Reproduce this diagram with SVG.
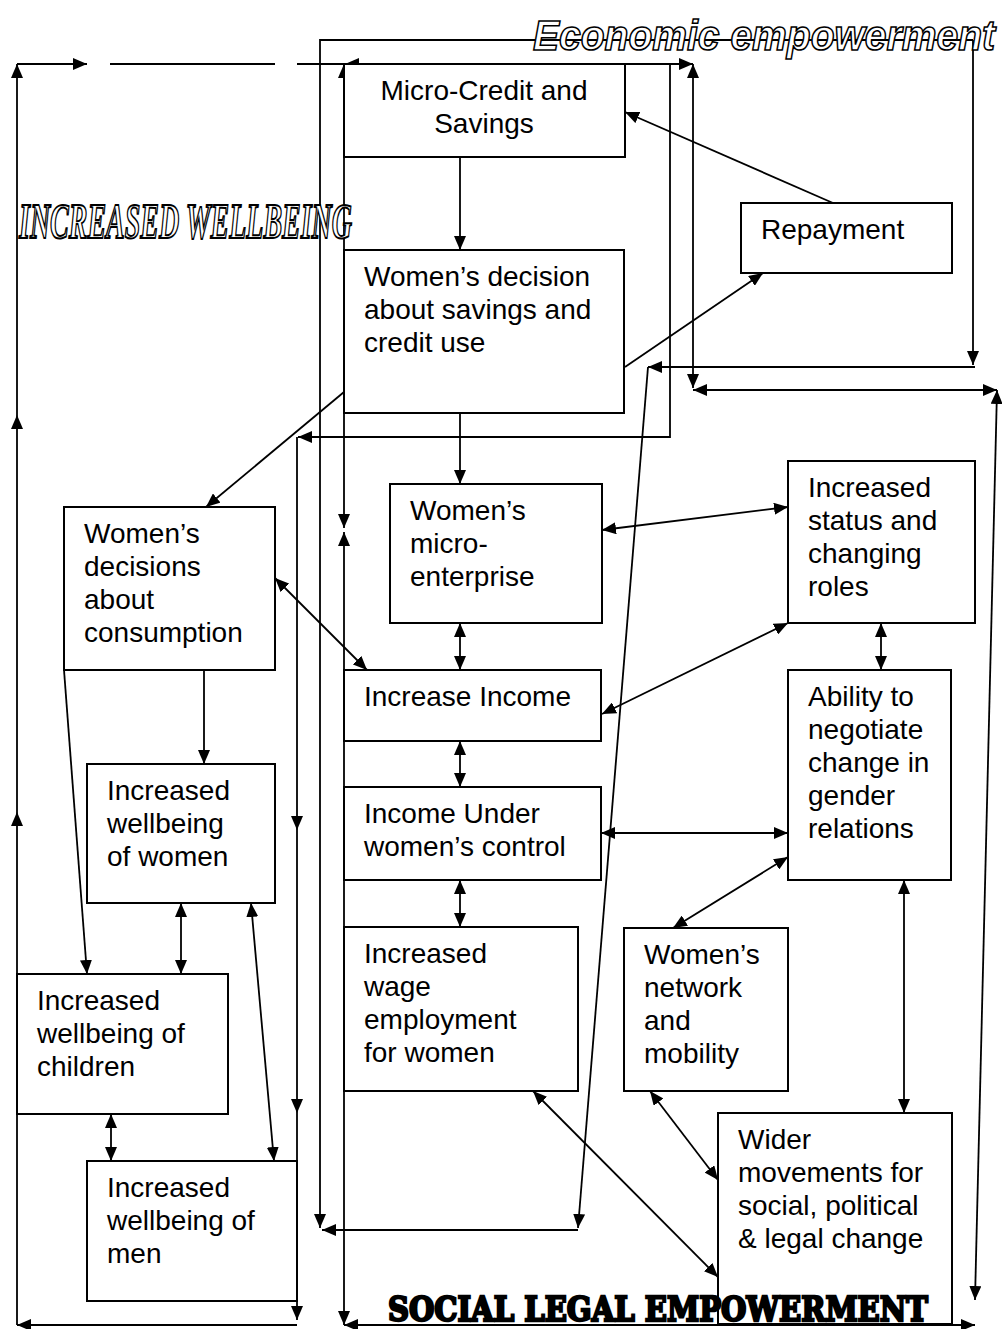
<svg xmlns="http://www.w3.org/2000/svg" width="1002" height="1329" viewBox="0 0 1002 1329">
<style>
.c{fill:none;stroke:#000;stroke-width:1.8}
.a{marker-end:url(#ah)}
.b{marker-start:url(#ah);marker-end:url(#ah)}
.n rect{fill:#fff;stroke:#000;stroke-width:2}
.n text{font-family:"Liberation Sans",Arial,sans-serif;font-size:28px;fill:#000}
</style>
<defs>
<marker id="ah" viewBox="0 0 14 12" refX="14" refY="6" markerWidth="14" markerHeight="12" markerUnits="userSpaceOnUse" orient="auto-start-reverse"><path d="M0,0 L14,6 L0,12 z" fill="#000"/></marker>
</defs>
<rect width="1002" height="1329" fill="#fff"/>
<g id="connectors">
<path class="c a" d="M460,157 V250"/>
<path class="c a" d="M460,413 V484"/>
<path class="c a" d="M833,203 L625,112"/>
<path class="c a" d="M625,367 L763,273"/>
<path class="c a" d="M344,392 L206,507"/>
<path class="c b" d="M275,578 L367,670"/>
<path class="c a" d="M204,670 V764"/>
<path class="c a" d="M64,670 L87,974"/>
<path class="c b" d="M181,903 V974"/>
<path class="c b" d="M251,903 L274,1161"/>
<path class="c b" d="M111,1114 V1161"/>
<path class="c b" d="M460,623 V670"/>
<path class="c b" d="M460,741 V787"/>
<path class="c b" d="M460,880 V927"/>
<path class="c b" d="M602,530 L788,507"/>
<path class="c b" d="M602,714 L788,623"/>
<path class="c b" d="M881,623 V670"/>
<path class="c b" d="M601,833 H788"/>
<path class="c b" d="M788,857 L673,928"/>
<path class="c b" d="M904,880 V1113"/>
<path class="c b" d="M650,1091 L718,1180"/>
<path class="c b" d="M533,1091 L718,1277"/>
<path class="c a" d="M17,1325 V812"/>
<path class="c a" d="M17,812 V415"/>
<path class="c a" d="M17,415 V64"/>
<path class="c a" d="M17,64 H87"/>
<path class="c" d="M110,64 H275"/>
<path class="c" d="M297,64 H345"/>
<path class="c b" d="M345,64 H693"/>
<path class="c b" d="M344,64 V528"/>
<path class="c b" d="M344,532 V1325"/>
<path class="c b" d="M344,1325 H975"/>
<path class="c b" d="M693,64 V388"/>
<path class="c b" d="M693,390 H997"/>
<path class="c b" d="M997,390 L975,1300"/>
<path class="c a" d="M670,64 V437 H298"/>
<path class="c a" d="M297,437 V830"/>
<path class="c a" d="M297,830 V1113"/>
<path class="c a" d="M297,1113 V1320"/>
<path class="c a" d="M297,1325 H17"/>
<path class="c a" d="M973,40 V365"/>
<path class="c a" d="M975,367 H648"/>
<path class="c a" d="M648,367 L578,1228"/>
<path class="c a" d="M578,1230 H322"/>
<path class="c a" d="M973,40 H320 V1228"/>
</g>
<g id="n1" class="n"><rect x="344" y="64" width="281" height="93"/><text x="484" y="100" text-anchor="middle">Micro-Credit and</text><text x="484" y="133" text-anchor="middle">Savings</text></g>
<g id="n2" class="n"><rect x="344" y="250" width="280" height="163"/><text x="364" y="286">Women’s decision</text><text x="364" y="319">about savings and</text><text x="364" y="352">credit use</text></g>
<g id="n3" class="n"><rect x="741" y="203" width="211" height="70"/><text x="761" y="239">Repayment</text></g>
<g id="n4" class="n"><rect x="64" y="507" width="211" height="163"/><text x="84" y="543">Women’s</text><text x="84" y="576">decisions</text><text x="84" y="609">about</text><text x="84" y="642">consumption</text></g>
<g id="n5" class="n"><rect x="390" y="484" width="212" height="139"/><text x="410" y="520">Women’s</text><text x="410" y="553">micro-</text><text x="410" y="586">enterprise</text></g>
<g id="n6" class="n"><rect x="788" y="461" width="187" height="162"/><text x="808" y="497">Increased</text><text x="808" y="530">status and</text><text x="808" y="563">changing</text><text x="808" y="596">roles</text></g>
<g id="n7" class="n"><rect x="344" y="670" width="257" height="71"/><text x="364" y="706">Increase Income</text></g>
<g id="n8" class="n"><rect x="788" y="670" width="163" height="210"/><text x="808" y="706">Ability to</text><text x="808" y="739">negotiate</text><text x="808" y="772">change in</text><text x="808" y="805">gender</text><text x="808" y="838">relations</text></g>
<g id="n9" class="n"><rect x="87" y="764" width="188" height="139"/><text x="107" y="800">Increased</text><text x="107" y="833">wellbeing</text><text x="107" y="866">of women</text></g>
<g id="n10" class="n"><rect x="344" y="787" width="257" height="93"/><text x="364" y="823">Income Under</text><text x="364" y="856">women’s control</text></g>
<g id="n11" class="n"><rect x="344" y="927" width="234" height="164"/><text x="364" y="963">Increased</text><text x="364" y="996">wage</text><text x="364" y="1029">employment</text><text x="364" y="1062">for women</text></g>
<g id="n12" class="n"><rect x="624" y="928" width="164" height="163"/><text x="644" y="964">Women’s</text><text x="644" y="997">network</text><text x="644" y="1030">and</text><text x="644" y="1063">mobility</text></g>
<g id="n13" class="n"><rect x="17" y="974" width="211" height="140"/><text x="37" y="1010">Increased</text><text x="37" y="1043">wellbeing of</text><text x="37" y="1076">children</text></g>
<g id="n14" class="n"><rect x="87" y="1161" width="210" height="140"/><text x="107" y="1197">Increased</text><text x="107" y="1230">wellbeing of</text><text x="107" y="1263">men</text></g>
<g id="n15" class="n"><rect x="718" y="1113" width="234" height="211"/><text x="738" y="1149">Wider</text><text x="738" y="1182">movements for</text><text x="738" y="1215">social, political</text><text x="738" y="1248">&amp; legal change</text></g>
<g id="titles">
<text x="533" y="50" textLength="462" lengthAdjust="spacingAndGlyphs" font-family="'Liberation Sans',Arial,sans-serif" font-style="italic" font-weight="bold" font-size="43" fill="#fff" stroke="#000" stroke-width="1.6">Economic empowerment</text>
<text x="19" y="238" textLength="333" lengthAdjust="spacingAndGlyphs" font-family="'Liberation Serif','Times New Roman',serif" font-style="italic" font-weight="bold" font-size="50" fill="#fff" stroke="#000" stroke-width="2">INCREASED WELLBEING</text>
<text x="388" y="1321" textLength="540" lengthAdjust="spacingAndGlyphs" font-family="'DejaVu Serif',serif" font-weight="bold" font-size="34" fill="#000" stroke="#000" stroke-width="2.5">SOCIAL LEGAL EMPOWERMENT</text>
</g>
</svg>
